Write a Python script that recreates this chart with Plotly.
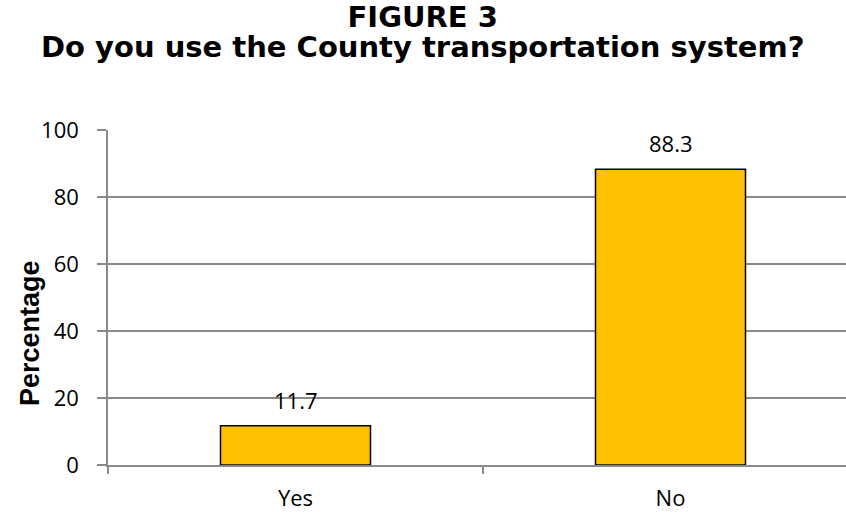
import plotly.graph_objects as go

categories = ["Yes", "No"]
values = [11.7, 88.3]
labels = ["11.7", "88.3"]
y_ticks = [0, 20, 40, 60, 80, 100]
title_lines = ["FIGURE 3", "Do you use the County transportation system?"]

fig = go.Figure()
fig.add_trace(go.Bar(
    x=categories, y=values,
    marker=dict(color="#FFC000", line=dict(color="#000000", width=1.5)),
    width=0.4,
    hoverinfo="skip",
))

for c, v, t in zip(categories, values, labels):
    fig.add_annotation(x=c, y=v, text=t, showarrow=False, yanchor="middle",
                       yshift=26, font=dict(family="Open Sans", size=22, color="#000"))

fig.add_annotation(xref="paper", yref="paper", x=0, y=0.394, xshift=-78,
                   xanchor="center", yanchor="middle",
                   text="<b>Percentage</b>", textangle=-90, showarrow=False,
                   font=dict(family="Liberation Sans", size=27, color="#000"))

title_text = "<br>".join(
    "<span style='font-size:29px'><b>" + line + "</b></span>" for line in title_lines
)
fig.add_annotation(xref="paper", yref="paper", x=(423 - 108) / 738, y=1,
                   xanchor="center", yanchor="middle", yshift=98,
                   text=title_text, showarrow=False,
                   font=dict(family="DejaVu Sans", size=23, color="#000"))

fig.update_layout(
    width=846, height=512,
    margin=dict(l=108, r=0, t=130, b=47),
    paper_bgcolor="white", plot_bgcolor="white",
    showlegend=False,
)
fig.update_xaxes(
    range=[-0.5, 1.468], type="category",
    showline=True, linecolor="#898989", linewidth=1.5,
    ticks="outside", tickson="boundaries", ticklen=7, tickcolor="#898989", tickwidth=1.5,
    ticklabelstandoff=13,
    tickfont=dict(family="Open Sans", size=22, color="#000"),
    showgrid=False,
)
fig.update_yaxes(
    range=[0, 100], tickvals=y_ticks,
    showline=True, linecolor="#898989", linewidth=1.5,
    ticks="outside", ticklen=9, tickcolor="#898989", tickwidth=1.5,
    ticklabelstandoff=14,
    showgrid=True, gridcolor="#898989", gridwidth=1.5,
    zeroline=False,
    tickfont=dict(family="Open Sans", size=22, color="#000"),
)

fig.write_html(
    "out.html",
    config={"displayModeBar": False},
    post_script="document.body.style.margin='0';document.body.style.overflow='hidden';",
)
